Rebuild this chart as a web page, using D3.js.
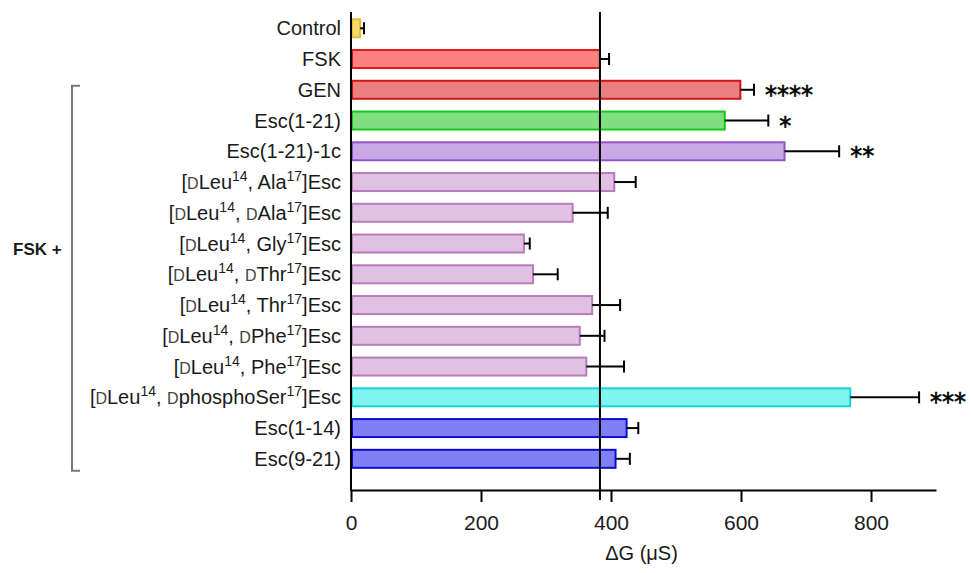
<!DOCTYPE html>
<html>
<head>
<meta charset="utf-8">
<script src="https://cdn.jsdelivr.net/npm/d3@7"></script>
<style>
  html, body { margin: 0; padding: 0; background: #fff; }
  svg { display: block; font-family: "Liberation Sans", Arial, sans-serif; }
</style>
</head>
<body>
<svg id="chart" width="972" height="573"></svg>
<script>
// Category labels: _D_ = small-capital D, ^{..} = superscript
const categories = [
  "Control",
  "FSK",
  "GEN",
  "Esc(1-21)",
  "Esc(1-21)-1c",
  "[_D_Leu^{14}, Ala^{17}]Esc",
  "[_D_Leu^{14}, _D_Ala^{17}]Esc",
  "[_D_Leu^{14}, Gly^{17}]Esc",
  "[_D_Leu^{14}, _D_Thr^{17}]Esc",
  "[_D_Leu^{14}, Thr^{17}]Esc",
  "[_D_Leu^{14}, _D_Phe^{17}]Esc",
  "[_D_Leu^{14}, Phe^{17}]Esc",
  "[_D_Leu^{14}, _D_phosphoSer^{17}]Esc",
  "Esc(1-14)",
  "Esc(9-21)"
];
const meanValues = [14, 383, 599, 575, 667, 405, 341, 266, 280, 371, 352, 362, 768, 424, 407];
const errorValues = [6, 14, 21, 67, 84, 33, 54, 9, 38, 43, 38, 58, 106, 18, 22];
const significance = ["", "", "****", "*", "**", "", "", "", "", "", "", "", "***", "", ""];
const fillColors = ["#f5d86a", "#ff8080", "#e88080", "#80e080", "#c9a8e6",
  "#e1c1e1", "#e1c1e1", "#e1c1e1", "#e1c1e1", "#e1c1e1", "#e1c1e1", "#e1c1e1",
  "#80f4f0", "#8080f4", "#8080f4"];
const strokeColors = ["#e6bd35", "#e01818", "#d01515", "#18c818", "#9652c8",
  "#b87cbc", "#b87cbc", "#b87cbc", "#b87cbc", "#b87cbc", "#b87cbc", "#b87cbc",
  "#14d4d4", "#0c0cd8", "#0c0cd8"];
const xTicks = [0, 200, 400, 600, 800];
const xDomain = [0, 900];
const referenceValue = 383; // FSK level
const groupLabel = "FSK +";
const groupFirst = "GEN", groupLast = "Esc(9-21)";
const xTitle = "\u0394G (\u03bcS)";

const svg = d3.select("#chart");

const x = d3.scaleLinear().domain(xDomain).range([351, 936]);
const y = d3.scaleBand().domain(categories).range([12.9, 474.2])
  .paddingInner(0.35).paddingOuter(0.175);
const axisY = 490;

// Bars
svg.append("g").selectAll("rect").data(categories).join("rect")
  .attr("x", x(0) + 1)
  .attr("y", d => y(d) + 1)
  .attr("width", (d, i) => x(meanValues[i]) - x(0) - 1)
  .attr("height", y.bandwidth() - 2)
  .attr("fill", (d, i) => fillColors[i])
  .attr("stroke", (d, i) => strokeColors[i])
  .attr("stroke-width", 2);

// Error bars (one-sided)
const eg = svg.append("g").attr("stroke", "#000").attr("stroke-width", 2);
categories.forEach((c, i) => {
  const cy = y(c) + y.bandwidth() / 2;
  const x1 = x(meanValues[i]), x2 = x(meanValues[i] + errorValues[i]);
  eg.append("line").attr("x1", x1).attr("x2", x2).attr("y1", cy).attr("y2", cy);
  eg.append("line").attr("x1", x2).attr("x2", x2).attr("y1", cy - 6).attr("y2", cy + 6);
});

// Significance stars
svg.append("g").selectAll("text").data(categories).join("text")
  .attr("x", (d, i) => x(meanValues[i] + errorValues[i]) + 11)
  .attr("y", d => y(d) + y.bandwidth() / 2 + 13)
  .attr("font-size", 24)
  .attr("font-family", "DejaVu Sans, sans-serif")
  .attr("fill", "#000")
  .attr("stroke", "#000").attr("stroke-width", 0.6)
  .text((d, i) => significance[i]);

// Reference vertical line
svg.append("line")
  .attr("x1", x(referenceValue)).attr("x2", x(referenceValue))
  .attr("y1", 12).attr("y2", 500)
  .attr("stroke", "#000").attr("stroke-width", 2);

// X axis
const xAxis = d3.axisBottom(x).tickValues(xTicks).tickSize(12).tickPadding(13).tickSizeOuter(0);
const gx = svg.append("g").attr("transform", `translate(0,${axisY})`).call(xAxis);
gx.select(".domain").attr("stroke", "#000").attr("stroke-width", 2);
gx.selectAll(".tick line").attr("stroke", "#000").attr("stroke-width", 2);
gx.selectAll(".tick text").attr("font-size", 21).attr("fill", "#1a1a1a")
  .attr("font-family", "Liberation Sans, Arial, sans-serif");

// Y axis line
svg.append("line").attr("x1", x(0)).attr("x2", x(0)).attr("y1", 12).attr("y2", axisY + 1)
  .attr("stroke", "#000").attr("stroke-width", 2);

// Category labels with rich text
function parseLabel(s) {
  const parts = [];
  const re = /(_D_)|\^\{([^}]*)\}|([^_^]+)/g;
  let m;
  while ((m = re.exec(s)) !== null) {
    if (m[1]) parts.push({ t: "D", kind: "sc" });
    else if (m[2] !== undefined) parts.push({ t: m[2], kind: "sup" });
    else parts.push({ t: m[3], kind: "n" });
  }
  return parts;
}
const lg = svg.append("g").attr("font-size", 20).attr("fill", "#1a1a1a").attr("text-anchor", "end");
categories.forEach(c => {
  const t = lg.append("text")
    .attr("x", x(0) - 10)
    .attr("y", y(c) + y.bandwidth() / 2 + 7);
  let raised = false;
  parseLabel(c).forEach(p => {
    const ts = t.append("tspan").text(p.t);
    if (p.kind === "sup") {
      ts.attr("font-size", 14).attr("dy", -8);
      raised = true;
    } else {
      if (raised) { ts.attr("dy", 8); raised = false; }
      if (p.kind === "sc") ts.attr("font-size", 16).attr("fill", "#444");
    }
  });
});

// Group bracket
const gy1 = y(groupFirst) + 6, gy2 = y(groupLast) + y.bandwidth() + 2;
svg.append("path")
  .attr("d", `M80,${gy1} H72 V${gy2} H80`)
  .attr("fill", "none").attr("stroke", "#777").attr("stroke-width", 2);
svg.append("text").attr("x", 13).attr("y", (gy1 + gy2) / 2 - 23)
  .attr("font-size", 17).attr("font-weight", "bold").attr("fill", "#1a1a1a")
  .text(groupLabel);

// X title
svg.append("text").attr("x", (x(0) + x(900)) / 2 - 2).attr("y", 560)
  .attr("text-anchor", "middle").attr("font-size", 20).attr("fill", "#1a1a1a")
  .text(xTitle);
</script>
</body>
</html>
